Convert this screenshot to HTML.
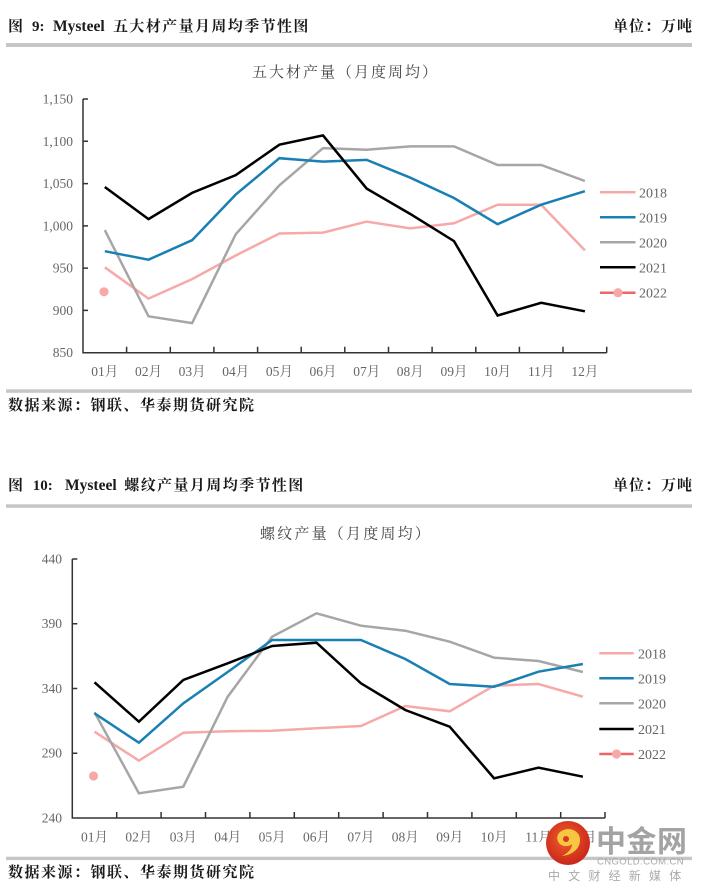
<!DOCTYPE html>
<html><head><meta charset="utf-8"><style>
html,body{margin:0;padding:0;background:#fff;}
svg{display:block;}
.cj{font-family:"Liberation Serif","Noto Serif CJK SC",serif;}
.lb{font-family:"Liberation Serif","Noto Serif CJK SC",serif;font-size:13.5px;fill:#666;}
.lg{font-family:"Liberation Serif",serif;font-size:14px;fill:#666;}
</style></head><body>
<svg width="702" height="893" viewBox="0 0 702 893" xmlns="http://www.w3.org/2000/svg">
<rect width="702" height="893" fill="#fff"/>

<!-- Header 1 -->
<g class="cj" fill="#1a1a1a" font-size="15">
<text x="8" y="31" font-weight="bold">图</text>
<text x="32" y="31" font-weight="bold">9:</text>
<text x="53" y="31" font-size="15.5" font-weight="bold">Mysteel</text>
<text x="113" y="31" letter-spacing="1.4" font-weight="bold">五大材产量月周均季节性图</text>
<text x="613" y="31" letter-spacing="1" font-weight="bold">单位：万吨</text>
</g>
<rect x="6" y="43" width="686" height="4" fill="#c6c6c6"/>

<!-- Chart 1 title -->
<text class="cj" x="252" y="77" font-size="15" fill="#444" letter-spacing="2">五大材产量（月度周均）</text>

<!-- Chart 1 axes -->
<g stroke="#333" stroke-width="1.5" fill="none">
<path d="M83,99 V352.7 H606.7"/>
<path d="M83,99 h5 M83,141.3 h5 M83,183.6 h5 M83,225.9 h5 M83,268.1 h5 M83,310.4 h5"/>
<path d="M126.6,352.7 v-6 M170.3,352.7 v-6 M213.9,352.7 v-6 M257.6,352.7 v-6 M301.2,352.7 v-6 M344.8,352.7 v-6 M388.5,352.7 v-6 M432.1,352.7 v-6 M475.8,352.7 v-6 M519.4,352.7 v-6 M563.0,352.7 v-6 M606.7,352.7 v-6"/>
</g>
<g class="lb" text-anchor="end">
<text x="73" y="103.5">1,150</text>
<text x="73" y="145.8">1,100</text>
<text x="73" y="188.1">1,050</text>
<text x="73" y="230.4">1,000</text>
<text x="73" y="272.6">950</text>
<text x="73" y="314.9">900</text>
<text x="73" y="357.2">850</text>
</g>
<g class="lb" text-anchor="middle">
<text x="104.8" y="376">01月</text>
<text x="148.5" y="376">02月</text>
<text x="192.1" y="376">03月</text>
<text x="235.7" y="376">04月</text>
<text x="279.4" y="376">05月</text>
<text x="323.0" y="376">06月</text>
<text x="366.7" y="376">07月</text>
<text x="410.3" y="376">08月</text>
<text x="454.0" y="376">09月</text>
<text x="497.6" y="376">10月</text>
<text x="541.2" y="376">11月</text>
<text x="584.9" y="376">12月</text>
</g>
<g fill="none" stroke-width="2.5" stroke-linejoin="miter">
<polyline stroke="#f7a9a9" points="104.8,267.3 148.5,298.6 192.1,279.1 235.7,255.5 279.4,233.5 323.0,232.6 366.7,221.6 410.3,228.4 454.0,223.3 497.6,204.7 541.2,204.7 584.9,250.4"/>
<polyline stroke="#a6a6a6" points="104.8,230.1 148.5,316.3 192.1,323.1 235.7,234.3 279.4,185.3 323.0,148.1 366.7,149.7 410.3,146.4 454.0,146.4 497.6,165.0 541.2,165.0 584.9,181.0"/>
<polyline stroke="#1a80b3" points="104.8,251.2 148.5,259.7 192.1,240.2 235.7,194.6 279.4,158.2 323.0,161.6 366.7,159.9 410.3,177.7 454.0,198.0 497.6,224.2 541.2,204.7 584.9,191.2"/>
<polyline stroke="#000" points="104.8,187.0 148.5,219.1 192.1,192.9 235.7,175.1 279.4,144.7 323.0,135.4 366.7,188.6 410.3,214.0 454.0,241.1 497.6,315.5 541.2,302.8 584.9,311.3"/>
</g>
<circle cx="104" cy="291.8" r="4.6" fill="#f7a9a9"/>
<!-- Legend 1 -->
<g stroke-width="2.5">
<line x1="600" y1="192.3" x2="635.5" y2="192.3" stroke="#f7a9a9"/>
<line x1="600" y1="217.3" x2="635.5" y2="217.3" stroke="#1a80b3"/>
<line x1="600" y1="242.3" x2="635.5" y2="242.3" stroke="#a6a6a6"/>
<line x1="600" y1="267.3" x2="635.5" y2="267.3" stroke="#000"/>
<line x1="600" y1="292.7" x2="635.5" y2="292.7" stroke="#f06464"/>
</g>
<circle cx="618" cy="292.7" r="4.6" fill="#f7a9a9"/>
<g class="lg">
<text x="639" y="197.3">2018</text>
<text x="639" y="222.3">2019</text>
<text x="639" y="247.3">2020</text>
<text x="639" y="272.3">2021</text>
<text x="639" y="297.7">2022</text>
</g>

<rect x="6" y="389.3" width="686" height="3.5" fill="#c6c6c6"/>
<text class="cj" x="8" y="410" font-size="15" fill="#1a1a1a" letter-spacing="1.5" font-weight="bold">数据来源：钢联、华泰期货研究院</text>

<!-- Header 2 -->
<g class="cj" fill="#1a1a1a" font-size="15" font-weight="bold">
<text x="8" y="490">图</text>
<text x="32.7" y="490">10:</text>
<text x="65" y="490" font-size="15.5">Mysteel</text>
<text x="124.3" y="490" letter-spacing="1.4">螺纹产量月周均季节性图</text>
<text x="613" y="490" letter-spacing="1">单位：万吨</text>
</g>
<rect x="6" y="504.3" width="686" height="3.5" fill="#c6c6c6"/>

<text class="cj" x="260" y="538.5" font-size="15" fill="#444" letter-spacing="2.2">螺纹产量（月度周均）</text>

<!-- Chart 2 axes -->
<g stroke="#333" stroke-width="1.5" fill="none">
<path d="M72.3,559 V818 H605"/>
<path d="M72.3,559 h5 M72.3,623.75 h5 M72.3,688.5 h5 M72.3,753.25 h5"/>
<path d="M116.7,818 v-6 M161.1,818 v-6 M205.5,818 v-6 M249.9,818 v-6 M294.3,818 v-6 M338.7,818 v-6 M383.1,818 v-6 M427.5,818 v-6 M471.9,818 v-6 M516.3,818 v-6 M560.7,818 v-6 M605,818 v-6"/>
</g>
<g class="lb" text-anchor="end">
<text x="62" y="563.5">440</text>
<text x="62" y="628.2">390</text>
<text x="62" y="693">340</text>
<text x="62" y="757.7">290</text>
<text x="62" y="822.5">240</text>
</g>
<g class="lb" text-anchor="middle">
<text x="94.5" y="841.5">01月</text>
<text x="138.9" y="841.5">02月</text>
<text x="183.3" y="841.5">03月</text>
<text x="227.7" y="841.5">04月</text>
<text x="272.1" y="841.5">05月</text>
<text x="316.5" y="841.5">06月</text>
<text x="360.9" y="841.5">07月</text>
<text x="405.3" y="841.5">08月</text>
<text x="449.7" y="841.5">09月</text>
<text x="494.1" y="841.5">10月</text>
<text x="538.5" y="841.5">11月</text>
<text x="582.9" y="841.5">12月</text>
</g>
<g fill="none" stroke-width="2.5">
<polyline stroke="#f7a9a9" points="94.5,731.7 138.9,760.7 183.3,732.7 227.7,731.3 272.1,730.7 316.5,728.3 360.9,726 405.3,706 449.7,711.3 494.1,685.7 538.5,684 582.9,696.7"/>
<polyline stroke="#a6a6a6" points="94.5,712.3 138.9,793.3 183.3,786.7 227.7,696.7 272.1,636.7 316.5,613.3 360.9,625.7 405.3,630.7 449.7,641.7 494.1,657.7 538.5,661 582.9,672"/>
<polyline stroke="#1a80b3" points="94.5,713.3 138.9,742.7 183.3,703.3 227.7,672 272.1,640 316.5,640 360.9,640 405.3,659 449.7,684 494.1,686.7 538.5,671.7 582.9,664"/>
<polyline stroke="#000" points="94.5,682.3 138.9,721.7 183.3,680 227.7,663.3 272.1,646 316.5,642.7 360.9,683.3 405.3,710 449.7,726.7 494.1,778.3 538.5,767.7 582.9,776.7"/>
</g>
<circle cx="93.5" cy="776" r="4.6" fill="#f7a9a9"/>
<!-- Legend 2 -->
<g stroke-width="2.5">
<line x1="599.3" y1="653.3" x2="633.7" y2="653.3" stroke="#f7a9a9"/>
<line x1="599.3" y1="678.3" x2="633.7" y2="678.3" stroke="#1a80b3"/>
<line x1="599.3" y1="703.3" x2="633.7" y2="703.3" stroke="#a6a6a6"/>
<line x1="599.3" y1="729" x2="633.7" y2="729" stroke="#000"/>
<line x1="599.3" y1="754" x2="633.7" y2="754" stroke="#f06464"/>
</g>
<circle cx="616.5" cy="754" r="4.6" fill="#f7a9a9"/>
<g class="lg">
<text x="638" y="658.3">2018</text>
<text x="638" y="683.3">2019</text>
<text x="638" y="708.3">2020</text>
<text x="638" y="734">2021</text>
<text x="638" y="759">2022</text>
</g>

<rect x="6" y="856.7" width="686" height="3.4" fill="#c6c6c6"/>
<text class="cj" x="8" y="877" font-size="15" fill="#1a1a1a" letter-spacing="1.5" font-weight="bold">数据来源：钢联、华泰期货研究院</text>

<!-- Watermark -->
<defs>
<radialGradient id="lg1" cx="0.45" cy="0.4" r="0.6">
<stop offset="0" stop-color="#f0602a"/>
<stop offset="1" stop-color="#c9261a"/>
</radialGradient>
</defs>
<circle cx="568" cy="843" r="22" fill="url(#lg1)"/>
<path d="M560,832 c8,-6 20,-2 20,8 c0,9 -8,15 -18,16 c6,-3 10,-7 10,-12 c-3,3 -10,3 -13,-1 c-3,-4 -2,-8 1,-11 z" fill="#f7c642"/>
<circle cx="566" cy="839" r="3" fill="#d9381e"/>
<text x="596" y="852" font-family="'Noto Sans CJK SC','WenQuanYi Zen Hei',sans-serif" font-weight="bold" font-size="30" fill="#a3a3a3" letter-spacing="0.5">中金网</text>
<text x="597" y="864.5" font-family="'Liberation Sans',sans-serif" font-size="9.5" fill="#aaa" letter-spacing="0.4">CNGOLD.COM.CN</text>
<text x="548" y="880" font-family="'Noto Sans CJK SC',sans-serif" font-size="12" fill="#aaa" letter-spacing="8.2">中文财经新媒体</text>
</svg>
</body></html>
